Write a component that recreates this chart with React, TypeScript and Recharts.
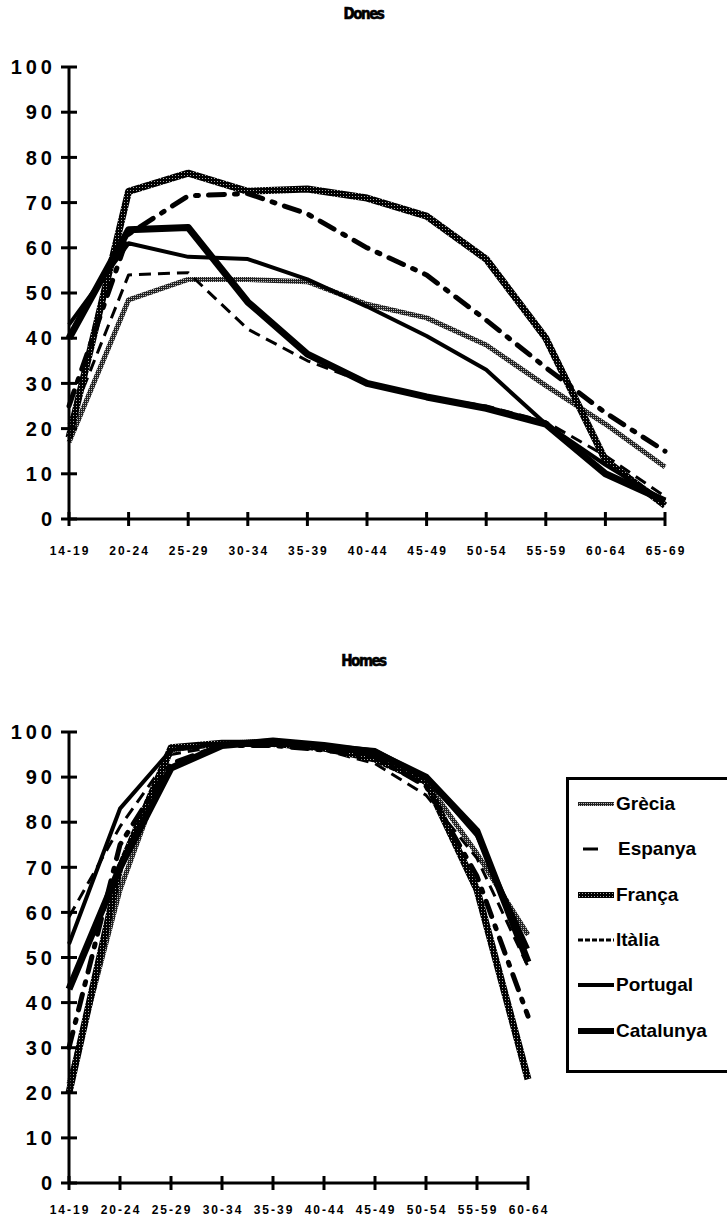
import React from "react";
import { LineChart, Line, XAxis, YAxis } from "recharts";

// Taxes d'activitat per edat (%)
const donesAges = ["14-19", "20-24", "25-29", "30-34", "35-39", "40-44", "45-49", "50-54", "55-59", "60-64", "65-69"];
const donesGrecia = [17, 48.5, 53, 53, 52.5, 47.5, 44.5, 38.5, 29.5, 21, 11.5];
const donesEspanya = [21, 54, 54.5, 42, 35, 30, 27, 25, 21.5, 14, 5];
const donesFranca = [18, 72.5, 76.5, 72.5, 73, 71, 67, 57.5, 40, 13, 3];
const donesItalia = [25, 63, 71.5, 72, 67.5, 60, 54, 44, 33.5, 23.5, 15];
const donesPortugal = [43, 61, 58, 57.5, 53, 47, 40.5, 33, 21, 12, 4];
const donesCatalunya = [40, 64, 64.5, 48, 36.5, 30, 27, 24.5, 21, 10, 4];

const homesAges = ["14-19", "20-24", "25-29", "30-34", "35-39", "40-44", "45-49", "50-54", "55-59", "60-64"];
const homesGrecia = [22, 65, 96, 97.5, 98, 97, 95, 89, 73, 55];
const homesEspanya = [59, 79, 95, 97, 97, 96, 93, 86, 72, 48];
const homesFranca = [20, 70, 96.5, 97.5, 97.5, 96.5, 94, 89, 65, 23];
const homesItalia = [30, 75, 93, 97, 97, 96, 94.5, 88, 68, 37];
const homesPortugal = [53, 83, 96, 97.5, 97.5, 97, 96, 90, 77, 52];
const homesCatalunya = [43, 70, 92, 97, 98, 97, 95.5, 90, 78, 49];

const yTicks = [0, 10, 20, 30, 40, 50, 60, 70, 80, 90, 100];
const countries = ["Grècia", "Espanya", "França", "Itàlia", "Portugal", "Catalunya"];

const lineStyle: Record<string, { stroke: string; width: number; dash?: string; cap?: "round" | "butt" }> = {
  "Grècia": { stroke: "url(#htLight)", width: 5 },
  "Espanya": { stroke: "#000", width: 3, dash: "12 7" },
  "França": { stroke: "url(#htDark)", width: 7 },
  "Itàlia": { stroke: "#000", width: 5, dash: "16 10 3 10", cap: "round" },
  "Portugal": { stroke: "#000", width: 4 },
  "Catalunya": { stroke: "#000", width: 7 },
};

function rows(ages: string[], series: number[][]) {
  return ages.map((age, i) => {
    const r: Record<string, string | number> = { age };
    countries.forEach((c, k) => (r[c] = series[k][i]));
    return r;
  });
}

const donesData = rows(donesAges, [donesGrecia, donesEspanya, donesFranca, donesItalia, donesPortugal, donesCatalunya]);
const homesData = rows(homesAges, [homesGrecia, homesEspanya, homesFranca, homesItalia, homesPortugal, homesCatalunya]);

const font = "'Liberation Sans', Arial, Helvetica, sans-serif";

const YTick = (props: any) => {
  const { x, y, payload } = props;
  return (
    <g>
      <line x1={x - 8} x2={x + 8} y1={y} y2={y} stroke="#000" strokeWidth={3} />
      <text
        x={x - 13}
        y={y}
        dy="0.36em"
        textAnchor="end"
        fontFamily={font}
        fontSize={20}
        fontWeight={700}
        letterSpacing={4}
        fill="#000"
      >
        {payload.value}
      </text>
    </g>
  );
};

const makeXTick = (offset: number) => (props: any) => {
  const { x, y, payload } = props;
  return (
    <g>
      <line x1={x} x2={x} y1={y - 7} y2={y + 7} stroke="#000" strokeWidth={3} />
      <text
        x={x + 1}
        y={y + offset}
        dy="0.36em"
        textAnchor="middle"
        fontFamily={font}
        fontSize={12}
        fontWeight={700}
        letterSpacing={2}
        fill="#000"
      >
        {payload.value}
      </text>
    </g>
  );
};

function Series() {
  return countries.map((c) => {
    const s = lineStyle[c];
    return (
      <Line
        key={c}
        type="linear"
        dataKey={c}
        stroke={s.stroke}
        strokeWidth={s.width}
        strokeDasharray={s.dash}
        strokeLinecap={s.cap ?? "butt"}
        strokeLinejoin="round"
        dot={false}
        activeDot={false}
        isAnimationActive={false}
      />
    );
  });
}

const titleStyle: React.CSSProperties = {
  position: "absolute",
  left: 0,
  width: 727,
  textAlign: "center",
  fontFamily: "'DejaVu Sans Condensed', 'Liberation Sans Narrow', sans-serif",
  fontWeight: 900,
  fontSize: 15,
  letterSpacing: -1.5,
  WebkitTextStroke: "0.6px #000",
};

function LegendSample({ name }: { name: string }) {
  const s = lineStyle[name];
  const short = name === "Espanya";
  const w = name === "Itàlia" ? 3 : name === "Grècia" ? 4 : Math.min(s.width, 6);
  return (
    <svg width={36} height={12} style={{ display: "block" }}>
      <line
        x1={short ? 5 : 0}
        x2={short ? 20 : 36}
        y1={6}
        y2={6}
        stroke={s.stroke}
        strokeWidth={w}
        strokeDasharray={name === "Itàlia" ? "5 2" : undefined}
      />
    </svg>
  );
}

export default function App() {
  return (
    <div style={{ position: "absolute", left: 0, top: 0, width: 727, height: 1222, background: "#fff", overflow: "hidden" }}>
      <svg width={0} height={0} style={{ position: "absolute" }}>
        <defs>
          <pattern id="htLight" width={2} height={2} patternUnits="userSpaceOnUse">
            <rect width={2} height={2} fill="#222" />
            <rect x={1} y={1} width={1} height={1} fill="#bbb" />
          </pattern>
          <pattern id="htDark" width={3} height={3} patternUnits="userSpaceOnUse">
            <rect width={3} height={3} fill="#000" />
            <rect x={1} y={1} width={1} height={1} fill="#aaa" />
          </pattern>
        </defs>
      </svg>

      <div style={{ ...titleStyle, top: 5 }}>Dones</div>
      <div style={{ position: "absolute", left: 0, top: 0 }}>
        <LineChart width={727} height={600} data={donesData} margin={{ top: 67, right: 62, bottom: 41, left: 9 }}>
          <XAxis
            dataKey="age"
            interval={0}
            tick={makeXTick(32)}
            tickSize={0}
            tickMargin={0}
            tickLine={false}
            axisLine={{ stroke: "#000", strokeWidth: 3 }}
            height={40}
          />
          <YAxis
            domain={[0, 100]}
            ticks={yTicks}
            interval={0}
            tick={YTick}
            tickSize={0}
            tickMargin={0}
            tickLine={false}
            axisLine={{ stroke: "#000", strokeWidth: 3 }}
            width={60}
          />
          {Series()}
        </LineChart>
      </div>

      <div style={{ ...titleStyle, top: 652 }}>Homes</div>
      <div style={{ position: "absolute", left: 0, top: 620 }}>
        <LineChart width={727} height={602} data={homesData} margin={{ top: 112, right: 199, bottom: 9, left: 9 }}>
          <XAxis
            dataKey="age"
            interval={0}
            tick={makeXTick(27)}
            tickSize={0}
            tickMargin={0}
            tickLine={false}
            axisLine={{ stroke: "#000", strokeWidth: 3 }}
            height={30}
          />
          <YAxis
            domain={[0, 100]}
            ticks={yTicks}
            interval={0}
            tick={YTick}
            tickSize={0}
            tickMargin={0}
            tickLine={false}
            axisLine={{ stroke: "#000", strokeWidth: 3 }}
            width={60}
          />
          {Series()}
        </LineChart>
      </div>

      <div
        style={{
          position: "absolute",
          left: 566,
          top: 777,
          width: 180,
          height: 296,
          border: "3px solid #000",
          boxSizing: "border-box",
        }}
      >
        {countries.map((c, i) => (
          <div
            key={c}
            style={{
              position: "absolute",
              left: 9,
              top: 11 + i * 45.3,
              display: "flex",
              alignItems: "center",
              height: 26,
              fontFamily: font,
              fontWeight: 700,
              fontSize: 19,
            }}
          >
            <LegendSample name={c} />
            <span style={{ marginLeft: c === "Espanya" ? 4 : 2 }}>{c}</span>
          </div>
        ))}
      </div>
    </div>
  );
}
